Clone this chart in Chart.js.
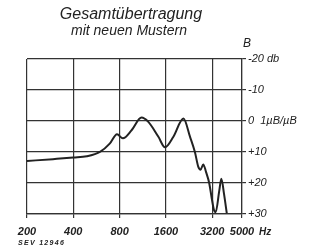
<!DOCTYPE html>
<html><head><meta charset="utf-8">
<script src="https://cdn.jsdelivr.net/npm/chart.js@4/dist/chart.umd.min.js"></script>
<style>html,body{margin:0;padding:0;background:#fff;}#wrap{width:310px;height:251px;position:relative;}</style>
</head><body><div id="wrap"><canvas id="c" width="310" height="251"></canvas></div>
<script>
const titleLines = ["Gesamtübertragung", "mit neuen Mustern"];
const freqTicks = [200, 400, 800, 1600, 3200, 5000];
const freqTickLabels = ["200", "400", "800", "1600", "3200", "5000"];
const dbTicks = [-20, -10, 0, 10, 20, 30];
const dbTickLabels = ["-20 db", "-10", "0  1\u00b5B/\u00b5B", "+10", "+20", "+30"];
const freqs = [200, 295, 400, 490, 600, 690, 770, 840, 960, 1110, 1230, 1430, 1580, 1790, 2080, 2300, 2470, 2600, 2690, 2800, 2920, 3060, 3180, 3290, 3370, 3560, 3670, 3820, 3980];
const dbValues = [12.9, 12.3, 11.8, 11.4, 9.9, 7.3, 4.3, 5.6, 2.9, -1.1, 0.3, 5.1, 8.5, 5.1, -0.8, 5.2, 10, 14.8, 15.7, 14, 16.5, 20, 25, 28.8, 29.4, 22.4, 18.6, 23.5, 29.7];
const yAxisLabel = "B";
const xUnit = "Hz";
const footnote = "SEV 12946";

const ink = "#222";
const FONT = "'Liberation Sans', Arial, sans-serif";

const textPlugin = {
  id: 'texts',
  afterDraw(chart) {
    const ctx = chart.ctx;
    const ca = chart.chartArea;
    const x = chart.scales.x;
    ctx.save();
    ctx.fillStyle = ink;
    ctx.textAlign = 'center';
    ctx.textBaseline = 'middle';
    ctx.font = "italic 16px " + FONT;
    ctx.fillText(titleLines[0], 131, 15);
    ctx.font = "italic 14px " + FONT;
    ctx.fillText(titleLines[1], 129, 31);
    ctx.textAlign = 'left';
    ctx.font = "italic 12px " + FONT;
    ctx.fillText(yAxisLabel, ca.right + 1, 44);
    ctx.font = "italic bold 10px " + FONT;
    const px = x.getPixelForValue(5000);
    ctx.fillText(xUnit, px + 17, 232);
    ctx.font = "italic bold 7px " + FONT;
    ctx.letterSpacing = '1.3px';
    ctx.fillText(footnote, 18, 243);
    ctx.restore();
  }
};

new Chart(document.getElementById('c'), {
  type: 'line',
  data: {
    datasets: [{
      data: freqs.map((f, i) => ({x: f, y: dbValues[i]})),
      borderColor: ink,
      borderWidth: 2,
      pointRadius: 0,
      fill: false,
      cubicInterpolationMode: 'monotone'
    }]
  },
  options: {
    responsive: false,
    animation: false,
    events: [],
    layout: {padding: {left: 27, top: 59, right: 0, bottom: 0}},
    plugins: {legend: {display: false}, title: {display: false}, tooltip: {enabled: false}},
    scales: {
      x: {
        type: 'logarithmic',
        min: 200, max: 5000,
        afterBuildTicks: s => { s.ticks = freqTicks.map(v => ({value: v})); },
        afterFit: s => { s.height = 37; },
        grid: {color: '#333', lineWidth: 1.2, tickLength: 4, drawTicks: true},
        border: {color: '#333', width: 1.2},
        ticks: {
          autoSkip: false, maxRotation: 0, minRotation: 0, padding: 7,
          color: ink, font: {family: FONT, size: 11, style: 'italic', weight: 'bold'},
          callback: (v, i) => freqTickLabels[i]
        }
      },
      y: {
        position: 'right',
        reverse: true,
        min: -20, max: 30,
        afterBuildTicks: s => { s.ticks = dbTicks.map(v => ({value: v})); },
        afterFit: s => { s.width = 68; },
        grid: {color: '#333', lineWidth: 1.2, tickLength: 4, drawTicks: true},
        border: {color: '#333', width: 1.2},
        ticks: {
          autoSkip: false, padding: 2,
          color: ink, font: {family: FONT, size: 11, style: 'italic'},
          callback: (v, i) => dbTickLabels[i]
        }
      }
    }
  },
  plugins: [textPlugin]
});
</script>
</body></html>
